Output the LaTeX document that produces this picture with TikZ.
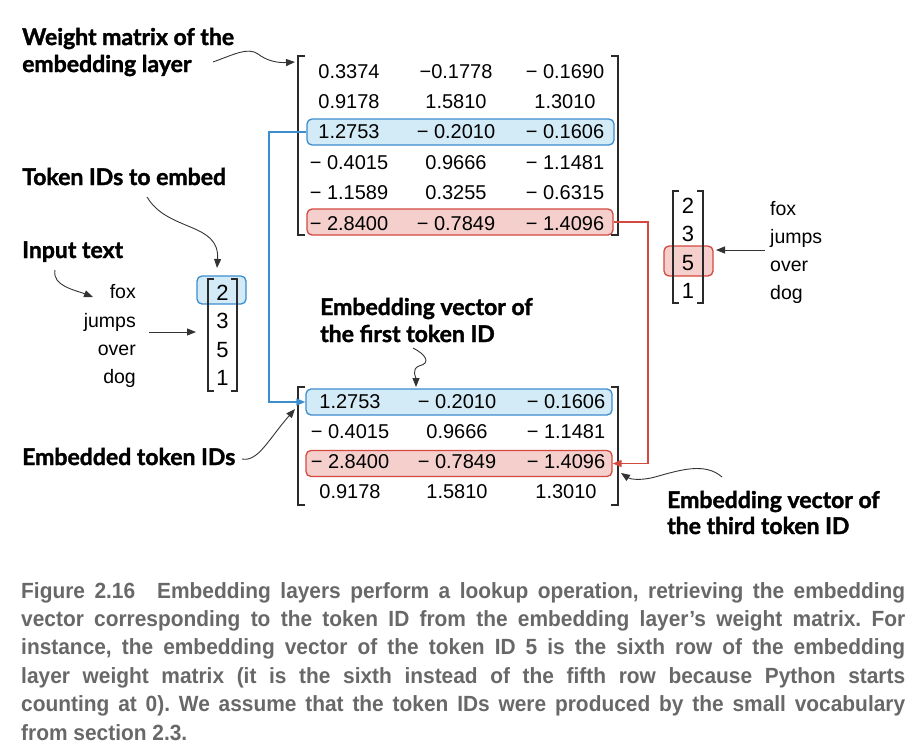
\documentclass[tikz,border=0pt]{standalone}
\usepackage{fontspec}
\setmainfont{Liberation Sans}
\newfontfamily\lblfont[BoldFeatures={FakeBold=1.6}]{Lato}
\newfontfamily\capfont[FakeStretch=0.95]{Liberation Sans}
\usetikzlibrary{arrows.meta}
\definecolor{bfill}{HTML}{D2EBF6}
\definecolor{bline}{HTML}{3C8DCF}
\definecolor{rfill}{HTML}{F5CFCC}
\definecolor{rline}{HTML}{D3483F}
\definecolor{capgray}{HTML}{686868}
\definecolor{brk}{HTML}{2A2A2A}
\tikzset{
  num/.style={anchor=base,inner sep=0pt,font=\fontsize{20}{24}\selectfont},
  vnum/.style={anchor=base,inner sep=0pt,font=\fontsize{22}{24}\selectfont},
  wordr/.style={anchor=base east,inner sep=0pt,font=\fontsize{19.5}{24}\selectfont},
  wordl/.style={anchor=base west,inner sep=0pt,font=\fontsize{19.5}{24}\selectfont},
  lbl/.style={anchor=base west,inner sep=0pt,font=\lblfont\bfseries\fontsize{23}{26}\selectfont},
  captxt/.style={anchor=base west,inner sep=0pt,text=capgray,font=\frenchspacing\capfont\bfseries\fontsize{22}{26}\selectfont},
  bluebox/.style={draw=bline,fill=bfill,line width=1.3pt,rounded corners=5pt,inner sep=0pt},
  redbox/.style={draw=rline,fill=rfill,line width=1.3pt,rounded corners=5pt,inner sep=0pt},
  bracket/.style={draw=brk,line width=1.5pt},
  lblarrow/.style={draw=black!80,line width=0.9pt,-{Triangle[length=9pt,width=7pt]}},
  bluecon/.style={draw=bline,line width=1.5pt,-{Triangle[length=9pt,width=7pt]}},
  redcon/.style={draw=rline,line width=1.5pt,-{Triangle[length=9pt,width=7pt]}}
}
\begin{document}
\begin{tikzpicture}[x=1pt,y=-1pt]
\useasboundingbox (0,0) rectangle (918,753);
% highlight boxes
\node[bluebox,minimum width=307pt,minimum height=26pt] (wb) at (460.5,132) {};
\node[redbox,minimum width=306pt,minimum height=26pt] (wr) at (460,222) {};
\node[bluebox,minimum width=306pt,minimum height=26pt] (ob) at (459,402) {};
\node[redbox,minimum width=306pt,minimum height=26pt] (or) at (459,463.5) {};
\node[bluebox,minimum width=49pt,minimum height=28pt] (lb) at (221.5,290) {};
\node[redbox,minimum width=49pt,minimum height=30pt] (rb) at (688.5,261) {};
% weight matrix
\node[num] (w11) at (349,78) {0.3374};
\node[num] (w12) at (456,78) {−0.1778};
\node[num] (w13) at (565,78) {− 0.1690};
\node[num] (w21) at (349,108.4) {0.9178};
\node[num] (w22) at (456,108.4) {1.5810};
\node[num] (w23) at (565,108.4) {1.3010};
\node[num] (w31) at (349,138.8) {1.2753};
\node[num] (w32) at (456,138.8) {− 0.2010};
\node[num] (w33) at (565,138.8) {− 0.1606};
\node[num] (w41) at (349,169.2) {− 0.4015};
\node[num] (w42) at (456,169.2) {0.9666};
\node[num] (w43) at (565,169.2) {− 1.1481};
\node[num] (w51) at (349,199.6) {− 1.1589};
\node[num] (w52) at (456,199.6) {0.3255};
\node[num] (w53) at (565,199.6) {− 0.6315};
\node[num] (w61) at (349,230) {− 2.8400};
\node[num] (w62) at (456,230) {− 0.7849};
\node[num] (w63) at (565,230) {− 1.4096};
\draw[bracket] (305,56) -- (298,56) -- (298,235) -- (305,235);
\draw[bracket] (611,56) -- (618,56) -- (618,235) -- (611,235);
% output matrix
\node[num] (o11) at (350,408) {1.2753};
\node[num] (o12) at (457,408) {− 0.2010};
\node[num] (o13) at (566,408) {− 0.1606};
\node[num] (o21) at (350,438) {− 0.4015};
\node[num] (o22) at (457,438) {0.9666};
\node[num] (o23) at (566,438) {− 1.1481};
\node[num] (o31) at (350,468) {− 2.8400};
\node[num] (o32) at (457,468) {− 0.7849};
\node[num] (o33) at (566,468) {− 1.4096};
\node[num] (o41) at (350,498) {0.9178};
\node[num] (o42) at (457,498) {1.5810};
\node[num] (o43) at (566,498) {1.3010};
\draw[bracket] (305,387) -- (298,387) -- (298,505) -- (305,505);
\draw[bracket] (611,387) -- (618,387) -- (618,505) -- (611,505);
% left vector and words
\node[vnum] (l1) at (222.5,300) {2};
\node[vnum] (l2) at (222.5,328.5) {3};
\node[vnum] (l3) at (222.5,357) {5};
\node[vnum] (l4) at (222.5,385.5) {1};
\draw[bracket] (214,279) -- (208,279) -- (208,391) -- (214,391);
\draw[bracket] (231,279) -- (237,279) -- (237,391) -- (231,391);
\node[wordr] (lw1) at (136,298) {fox};
\node[wordr] (lw2) at (136,327) {jumps};
\node[wordr] (lw3) at (136,355) {over};
\node[wordr] (lw4) at (136,383) {dog};
% right vector and words
\node[vnum] (r1) at (688,213) {2};
\node[vnum] (r2) at (688,241.5) {3};
\node[vnum] (r3) at (688,270) {5};
\node[vnum] (r4) at (688,298.5) {1};
\draw[bracket] (679,191) -- (673,191) -- (673,303) -- (679,303);
\draw[bracket] (697,191) -- (703,191) -- (703,303) -- (697,303);
\node[wordl] (rw1) at (770,215) {fox};
\node[wordl] (rw2) at (770,243) {jumps};
\node[wordl] (rw3) at (770,271) {over};
\node[wordl] (rw4) at (770,299) {dog};
% labels
\node[lbl] (L1a) at (22,45) {Weight matrix of the};
\node[lbl] (L1b) at (22,72) {embedding layer};
\node[lbl] (L2) at (22,185) {Token IDs to embed};
\node[lbl] (L3) at (22,258) {Input text};
\node[lbl] (L4a) at (320,315) {Embedding vector of};
\node[lbl] (L4b) at (320,342) {the first token ID};
\node[lbl] (L5) at (22,465) {Embedded token IDs};
\node[lbl] (L6a) at (667,508) {Embedding vector of};
\node[lbl] (L6b) at (667,534) {the third token ID};
% connector coordinates
\coordinate (bx) at (269,0);
\coordinate (rx) at (648,0);
\coordinate (a1s) at (213,62);
\coordinate (a1e) at (295,62);
\coordinate (a2s) at (147,197);
\coordinate (a2e) at (217,268);
\coordinate (a3s) at (55,270);
\coordinate (a3e) at (93,297);
\coordinate (a4s) at (149,332);
\coordinate (a4e) at (196,332);
\coordinate (a5s) at (413,348);
\coordinate (a5e) at (416,387);
\coordinate (a6s) at (242,459);
\coordinate (a6e) at (295,409);
\coordinate (a7s) at (722,477);
\coordinate (a7e) at (621,473);
\coordinate (a8s) at (765,250);
\coordinate (a8e) at (716,250);
% colored connectors
\draw[bluecon] (wb.west) -- (wb.west -| bx) -- (ob.west -| bx) -- (ob.west);
\draw[redcon] (wr.east) -- (wr.east -| rx) -- (or.east -| rx) -- (or.east);
% label arrows
\draw[lblarrow] (a1s) .. controls (235,54) and (248,47) .. (258,54) .. controls (267,61) and (278,63) .. (a1e);
\draw[lblarrow] (a2s) .. controls (168,232) and (220,222) .. (a2e);
\draw[lblarrow] (a3s) .. controls (52,286) and (75,290) .. (a3e);
\draw[lblarrow] (a4s) -- (a4e);
\draw[lblarrow] (a5s) .. controls (425,354) and (432,363) .. (419,366) .. controls (411,369) and (416,378) .. (a5e);
\draw[lblarrow] (a6s) .. controls (258,462) and (268,440) .. (a6e);
\draw[lblarrow] (a7s) .. controls (705,462) and (680,470) .. (655,477) .. controls (640,481) and (630,479) .. (a7e);
\draw[lblarrow] (a8s) -- (a8e);
% caption
\node[captxt] (c1) at (21,598) {\makebox[884pt][s]{Figure 2.16\quad Embedding layers perform a lookup operation, retrieving the embedding}};
\node[captxt] (c2) at (21,626.4) {\makebox[884pt][s]{vector corresponding to the token ID from the embedding layer’s weight matrix. For}};
\node[captxt] (c3) at (21,654.8) {\makebox[884pt][s]{instance, the embedding vector of the token ID 5 is the sixth row of the embedding}};
\node[captxt] (c4) at (21,683.2) {\makebox[884pt][s]{layer weight matrix (it is the sixth instead of the fifth row because Python starts}};
\node[captxt] (c5) at (21,711.6) {\makebox[884pt][s]{counting at 0). We assume that the token IDs were produced by the small vocabulary}};
\node[captxt] (c6) at (21,740) {from section 2.3.};
\end{tikzpicture}
\end{document}
